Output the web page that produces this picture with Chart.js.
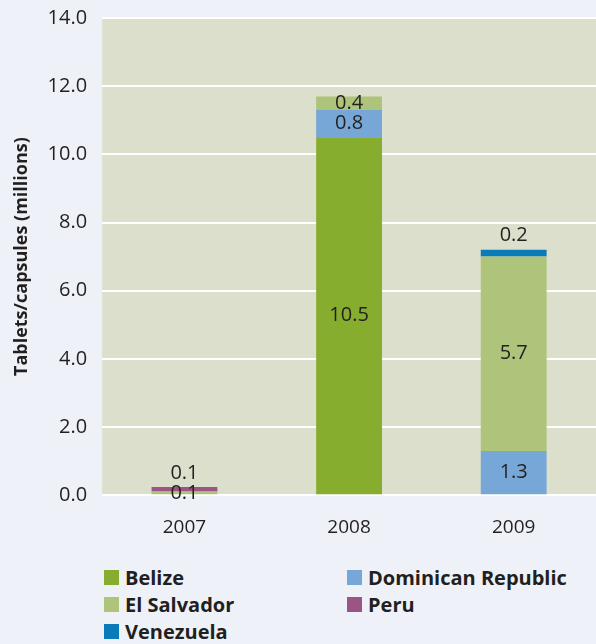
<!DOCTYPE html>
<html>
<head>
<meta charset="utf-8">
<script src="https://cdn.jsdelivr.net/npm/chart.js@4"></script>
<style>
  body { margin: 0; background: #eef1f8; font-family: "Open Sans", "Noto Sans", sans-serif; }
  #wrap { position: relative; width: 596px; height: 552px; }
  #legend { position: relative; width: 596px; height: 92px; }
  .item { position: absolute; display: flex; align-items: center; font-weight: bold; font-size: 20px; color: #231f20; }
  .sw { width: 15px; height: 15px; margin-right: 6px; }
</style>
</head>
<body>
<div id="wrap"><canvas id="chart"></canvas></div>
<div id="legend"></div>
<script>
// Dados do gráfico
const years = ['2007', '2008', '2009'];
const belize = [null, 10.5, null];
const dominicanRepublic = [null, 0.8, 1.3];
const elSalvador = [0.11, 0.4, 5.7];
const peru = [0.13, null, null];
const venezuela = [null, null, 0.2];
const yTicks = [0, 2, 4, 6, 8, 10, 12, 14];

const series = [
    { label: 'Belize', data: belize, color: '#87ad2e' },
    { label: 'Dominican Republic', data: dominicanRepublic, color: '#77a7d6' },
    { label: 'El Salvador', data: elSalvador, color: '#adc47a' },
    { label: 'Peru', data: peru, color: '#9b5585' },
    { label: 'Venezuela', data: venezuela, color: '#0a7bb9' }
];

const FONT = '"Open Sans", "Noto Sans", sans-serif';

// Fundo da área do gráfico
const plotBackground = {
    id: 'plotBackground',
    beforeDraw(chart) {
        const { ctx, chartArea: a } = chart;
        ctx.save();
        ctx.fillStyle = '#dcdfcb';
        ctx.fillRect(a.left, a.top, a.right - a.left, a.bottom - a.top);
        ctx.restore();
    }
};

// Rótulos dos valores
const valueLabels = {
    id: 'valueLabels',
    afterDatasetsDraw(chart) {
        const ctx = chart.ctx;
        ctx.save();
        ctx.font = '20px ' + FONT;
        ctx.fillStyle = '#231f20';
        ctx.textAlign = 'center';
        ctx.textBaseline = 'middle';
        const n = chart.data.datasets.length;
        chart.data.datasets.forEach((ds, i) => {
            const meta = chart.getDatasetMeta(i);
            meta.data.forEach((bar, j) => {
                const v = ds.data[j];
                if (v == null) return;
                let isTop = true;
                for (let k = i + 1; k < n; k++) {
                    if (chart.data.datasets[k].data[j] != null) isTop = false;
                }
                const h = bar.base - bar.y;
                let y = bar.y + h / 2;
                if (isTop && h < 10) y = bar.y - 14;
                ctx.fillText(v.toFixed(1), bar.x, y);
            });
        });
        ctx.restore();
    }
};

const ctxEl = document.getElementById('chart');
new Chart(ctxEl, {
    type: 'bar',
    data: {
        labels: years,
        datasets: series.map(s => ({
            label: s.label,
            data: s.data,
            backgroundColor: s.color,
            borderWidth: 0,
            categoryPercentage: 1,
            barPercentage: 0.4
        }))
    },
    options: {
        responsive: true,
        maintainAspectRatio: false,
        animation: false,
        layout: { padding: { top: 18, right: 0, left: 0, bottom: 0 } },
        scales: {
            x: {
                stacked: true,
                grid: { display: false },
                border: { display: false },
                ticks: {
                    color: '#231f20',
                    font: { size: 19, family: FONT },
                    padding: 13
                }
            },
            y: {
                stacked: true,
                min: 0,
                max: 14,
                afterBuildTicks(axis) {
                    axis.ticks = yTicks.map(v => ({ value: v }));
                },
                afterFit(axis) {
                    axis.paddingTop = 0;
                    axis.paddingBottom = 0;
                },
                grid: { color: '#ffffff', lineWidth: 2, drawTicks: false },
                border: { display: false },
                ticks: {
                    color: '#231f20',
                    padding: 15,
                    font: { size: 20, family: FONT },
                    callback: v => v.toFixed(1)
                },
                title: {
                    display: true,
                    text: 'Tablets/capsules (millions)',
                    color: '#231f20',
                    font: { size: 18, weight: 'bold', family: FONT },
                    padding: { top: 11, bottom: 0 }
                }
            }
        },
        plugins: {
            legend: { display: false },
            tooltip: { enabled: false }
        }
    },
    plugins: [plotBackground, valueLabels]
});

// Legenda em HTML (duas colunas)
const legendPos = [
    [104, 26], [347, 26],
    [104, 53], [347, 53],
    [104, 80]
];
const legendEl = document.getElementById('legend');
series.forEach((s, k) => {
    const div = document.createElement('div');
    div.className = 'item';
    div.style.left = legendPos[k][0] + 'px';
    div.style.top = (legendPos[k][1] - 14) + 'px';
    div.innerHTML = '<span class="sw" style="background:' + s.color + '"></span>' + s.label;
    legendEl.appendChild(div);
});
</script>
</body>
</html>
